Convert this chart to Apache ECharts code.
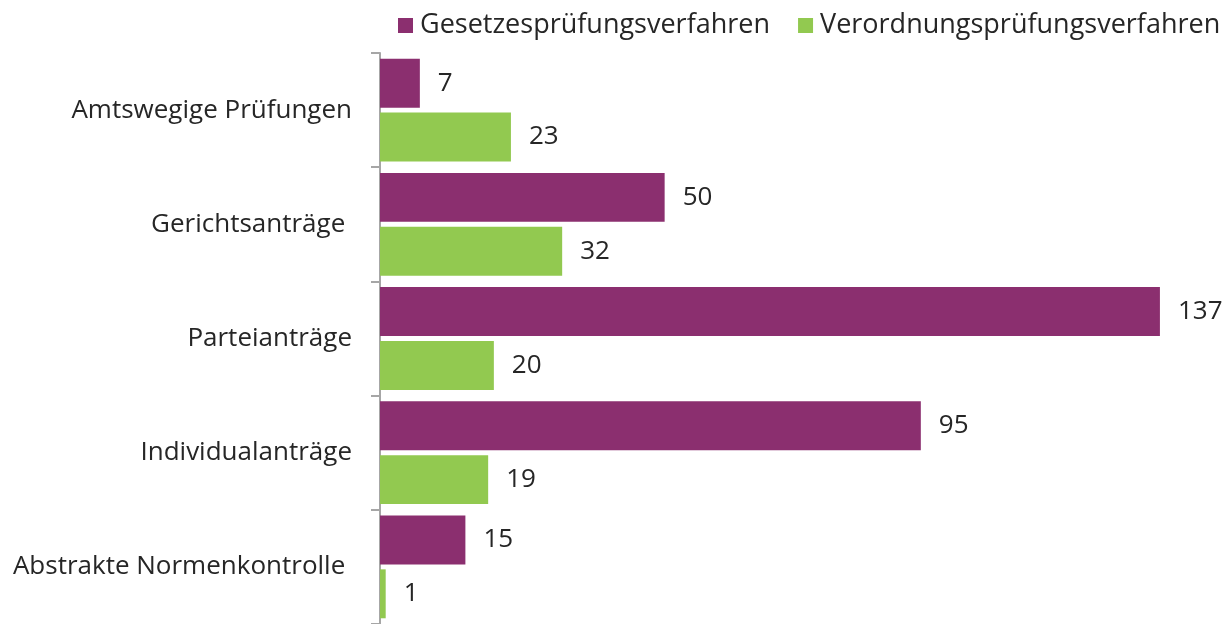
<!DOCTYPE html>
<html>
<head>
<meta charset="utf-8">
<script src="https://cdn.jsdelivr.net/npm/echarts@6/dist/echarts.min.js"></script>
<style>
  html, body { margin: 0; padding: 0; background: #fff; }
  #chart { width: 1225px; height: 624px; }
</style>
</head>
<body>
<div id="chart"></div>
<script>
var categories = ['Amtswegige Prüfungen', 'Gerichtsanträge ', 'Parteianträge', 'Individualanträge', 'Abstrakte Normenkontrolle '];
var gesetz = [7, 50, 137, 95, 15];
var verordnung = [23, 32, 20, 19, 1];

var myChart = echarts.init(document.getElementById('chart'));
var font = 'Open Sans';

var option = {
    backgroundColor: '#fff',
    textStyle: { fontFamily: font },
    legend: {
        top: 12,
        left: 398,
        padding: 0,
        itemWidth: 15,
        itemHeight: 15,
        itemGap: 28,
        icon: 'rect',
        textStyle: { fontSize: 27, color: '#262626', fontFamily: font, padding: [0, 0, 0, 2] },
        data: ['Gesetzesprüfungsverfahren', 'Verordnungsprüfungsverfahren']
    },
    grid: { left: 380, right: 48, top: 53, bottom: 0, containLabel: false },
    xAxis: {
        type: 'value',
        min: 0,
        max: 140,
        show: false
    },
    yAxis: {
        type: 'category',
        inverse: true,
        data: categories,
        axisLine: { lineStyle: { color: '#A6A6A6', width: 2 } },
        axisTick: { show: true, length: 9, lineStyle: { color: '#A6A6A6', width: 2 } },
        axisLabel: { fontSize: 26, color: '#262626', margin: 28, fontFamily: font }
    },
    series: [{
        name: 'Gesetzesprüfungsverfahren',
        type: 'bar',
        data: gesetz,
        barGap: '10%',
        barCategoryGap: '10%',
        itemStyle: { color: '#8B2F6F' },
        label: { show: true, position: 'right', distance: 18, fontSize: 26, color: '#262626', fontFamily: font }
    }, {
        name: 'Verordnungsprüfungsverfahren',
        type: 'bar',
        data: verordnung,
        barGap: '10%',
        barCategoryGap: '10%',
        itemStyle: { color: '#92C950' },
        label: { show: true, position: 'right', distance: 18, fontSize: 26, color: '#262626', fontFamily: font }
    }]
};
myChart.setOption(option);
</script>
</body>
</html>
